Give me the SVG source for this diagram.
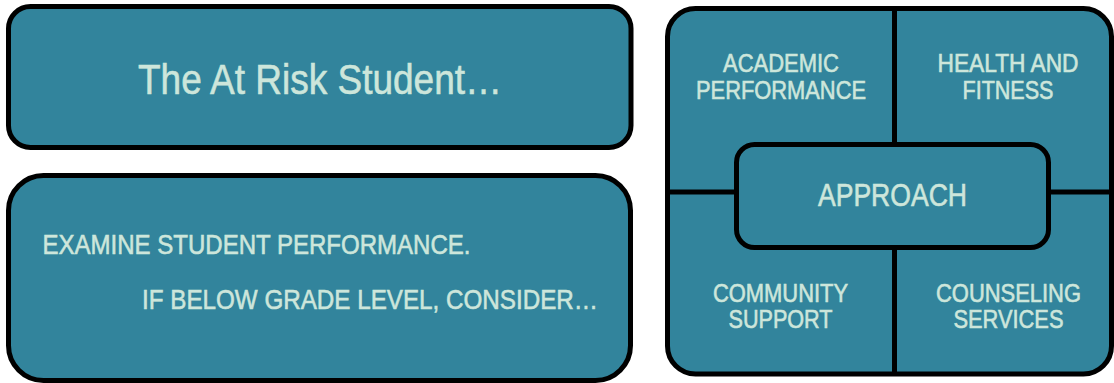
<svg xmlns="http://www.w3.org/2000/svg" width="1114" height="383" viewBox="0 0 1114 383">
<style>
.box{fill:#32849c;stroke:#000;stroke-width:5}
.div{stroke:#000;stroke-width:5;fill:none}
.t{font-family:"Liberation Sans",Arial,sans-serif;fill:#cde6db;stroke:#cde6db;stroke-width:0.6}
.m{text-anchor:middle}
</style>
<rect width="1114" height="383" fill="#fff"/>
<g id="title-box">
<rect class="box" x="8.5" y="6.5" width="622.5" height="141" rx="22"/>
<text class="t m" x="320" y="94" font-size="43" textLength="364" lengthAdjust="spacingAndGlyphs">The At Risk Student…</text>
</g>
<g id="examine-box">
<rect class="box" x="8.5" y="175.5" width="622" height="205" rx="35"/>
<text class="t" x="42.5" y="254" font-size="28" textLength="428" lengthAdjust="spacingAndGlyphs">EXAMINE STUDENT PERFORMANCE.</text>
<text class="t" x="142" y="309" font-size="28" textLength="456" lengthAdjust="spacingAndGlyphs">IF BELOW GRADE LEVEL, CONSIDER…</text>
</g>
<g id="approach-panel">
<rect class="box" x="667.5" y="8.5" width="444" height="365.5" rx="28"/>
</g>
<g id="connectors">
<line class="div" x1="894.5" y1="8.5" x2="894.5" y2="374"/>
<line class="div" x1="667.5" y1="192" x2="1111.5" y2="192"/>
</g>
<g id="academic">
<text class="t m" x="781" y="72" font-size="25" textLength="116" lengthAdjust="spacingAndGlyphs">ACADEMIC</text>
<text class="t m" x="781" y="99" font-size="25" textLength="170" lengthAdjust="spacingAndGlyphs">PERFORMANCE</text>
</g>
<g id="health">
<text class="t m" x="1008" y="72" font-size="25" textLength="141" lengthAdjust="spacingAndGlyphs">HEALTH AND</text>
<text class="t m" x="1008" y="99" font-size="25" textLength="91" lengthAdjust="spacingAndGlyphs">FITNESS</text>
</g>
<g id="community">
<text class="t m" x="780.5" y="302" font-size="25" textLength="135" lengthAdjust="spacingAndGlyphs">COMMUNITY</text>
<text class="t m" x="780.5" y="328" font-size="25" textLength="104" lengthAdjust="spacingAndGlyphs">SUPPORT</text>
</g>
<g id="counseling">
<text class="t m" x="1008.5" y="302" font-size="25" textLength="145" lengthAdjust="spacingAndGlyphs">COUNSELING</text>
<text class="t m" x="1008.5" y="328" font-size="25" textLength="110" lengthAdjust="spacingAndGlyphs">SERVICES</text>
</g>
<g id="approach">
<rect class="box" x="736.5" y="144.5" width="312" height="103" rx="18"/>
<text class="t m" x="892.5" y="206" font-size="32" textLength="149" lengthAdjust="spacingAndGlyphs">APPROACH</text>
</g>
</svg>
